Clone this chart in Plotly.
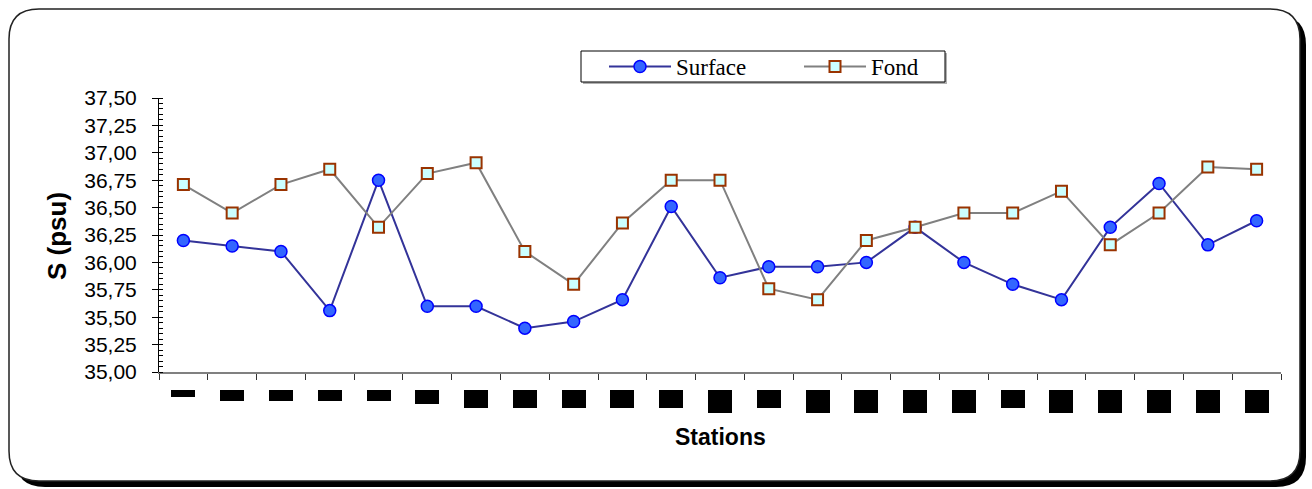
import plotly.graph_objects as go

# Stations along the transect (labels are masked with solid blocks on the axis)
stations = [f"S{i}" for i in range(1, 24)]
label_heights = [7, 11, 11, 11, 11, 14, 18, 18, 18, 18, 18, 23, 18, 23, 23, 23, 23, 18, 23, 23, 23, 23, 23]

# Salinity (psu)
surface = [36.20, 36.15, 36.10, 35.56, 36.75, 35.60, 35.60, 35.40, 35.46, 35.66, 36.51, 35.86,
           35.96, 35.96, 36.00, 36.32, 36.00, 35.80, 35.66, 36.32, 36.72, 36.16, 36.38]
fond = [36.71, 36.45, 36.71, 36.85, 36.32, 36.81, 36.91, 36.10, 35.80, 36.36, 36.75, 36.75,
        35.76, 35.66, 36.20, 36.32, 36.45, 36.45, 36.65, 36.16, 36.45, 36.87, 36.85]

y_ticks = [35.00 + 0.25 * k for k in range(11)]

W, H = 1312, 489
L, R, T, B = 159, 1281, 98, 372  # plot-area edges in pixels


def px(x):
    return (x - L) / (R - L)


def py(y):
    return (B - y) / (B - T)


def rounded_rect(x0, y0, x1, y1, r):
    pts = [
        f"M {px(x0 + r)},{py(y0)}",
        f"L {px(x1 - r)},{py(y0)}",
        f"Q {px(x1)},{py(y0)} {px(x1)},{py(y0 + r)}",
        f"L {px(x1)},{py(y1 - r)}",
        f"Q {px(x1)},{py(y1)} {px(x1 - r)},{py(y1)}",
        f"L {px(x0 + r)},{py(y1)}",
        f"Q {px(x0)},{py(y1)} {px(x0)},{py(y1 - r)}",
        f"L {px(x0)},{py(y0 + r)}",
        f"Q {px(x0)},{py(y0)} {px(x0 + r)},{py(y0)}",
        "Z",
    ]
    return " ".join(pts)


fig = go.Figure()

fig.add_trace(go.Scatter(
    x=stations, y=surface, name="Surface", mode="lines+markers",
    line=dict(color="#333399", width=2),
    marker=dict(symbol="circle", size=12, color="#3366FF", line=dict(color="#0000FF", width=1.5)),
))
fig.add_trace(go.Scatter(
    x=stations, y=fond, name="Fond", mode="lines+markers",
    line=dict(color="#808080", width=2),
    marker=dict(symbol="square", size=11, color="#CCFFFF", line=dict(color="#993300", width=2)),
))

shapes = [
    # Outer frame with drop shadow
    dict(type="path", xref="paper", yref="paper", layer="below",
         path=rounded_rect(15, 15, 1306, 487, 30), fillcolor="black", line=dict(width=0)),
    dict(type="path", xref="paper", yref="paper", layer="below",
         path=rounded_rect(9, 9, 1300, 481, 30), fillcolor="white", line=dict(color="#222222", width=1.5)),
    # Legend box with a light shadow
    dict(type="rect", xref="paper", yref="paper", layer="below",
         x0=px(583), x1=px(947), y0=py(84), y1=py(53), fillcolor="#b0b0b0", line=dict(width=0)),
    dict(type="rect", xref="paper", yref="paper", layer="below",
         x0=px(581), x1=px(945), y0=py(82), y1=py(51), fillcolor="white", line=dict(color="black", width=1)),
]

annotations = []
# Masked station labels
for s, h in zip(stations, label_heights):
    annotations.append(dict(
        x=s, xref="x", y=py(390), yref="paper", xanchor="center", yanchor="top",
        text=s, showarrow=False, font=dict(size=6, color="black"),
        width=24, height=h, bgcolor="black", borderpad=0, borderwidth=0,
    ))

# Axis titles
annotations.append(dict(
    x=px(57), y=py(236), xref="paper", yref="paper", xanchor="center", yanchor="middle",
    text="<b>S (psu)</b>", textangle=-90, showarrow=False,
    font=dict(family="Liberation Sans, Arial", size=26, color="black"),
))
annotations.append(dict(
    x=px(720), y=py(437), xref="paper", yref="paper", xanchor="center", yanchor="middle",
    text="<b>Stations</b>", showarrow=False,
    font=dict(family="Liberation Sans, Arial", size=23, color="black"),
))

fig.update_layout(
    width=W, height=H,
    margin=dict(l=L, r=W - R, t=T, b=H - B),
    paper_bgcolor="white", plot_bgcolor="rgba(0,0,0,0)",
    separators=", ",
    shapes=shapes, annotations=annotations,
    showlegend=True,
    legend=dict(
        orientation="h", x=px(604), y=py(66.5), xanchor="left", yanchor="middle",
        bgcolor="rgba(0,0,0,0)", borderwidth=0,
        font=dict(family="Liberation Serif, Times New Roman", size=23, color="black"),
        itemwidth=62, entrywidth=118,
    ),
    xaxis=dict(
        type="category", range=[-0.5, 22.5], tickson="boundaries",
        showticklabels=False, showgrid=False, zeroline=False,
        showline=True, linecolor="#808080", linewidth=2,
        ticks="outside", ticklen=6, tickcolor="#333333", tickwidth=1,
    ),
    yaxis=dict(
        range=[35, 37.5], tickvals=y_ticks, tickformat=".2f",
        showgrid=False, zeroline=False,
        showline=True, linecolor="black", linewidth=1,
        ticks="outside", ticklen=6, tickcolor="black", tickwidth=1,
        ticklabelstandoff=11,
        tickfont=dict(family="Liberation Sans, Arial", size=21, color="black"),
        minor=dict(dtick=0.05, ticks="inside", ticklen=4, tickcolor="black", tickwidth=1),
    ),
)

fig.write_html("out.html")
